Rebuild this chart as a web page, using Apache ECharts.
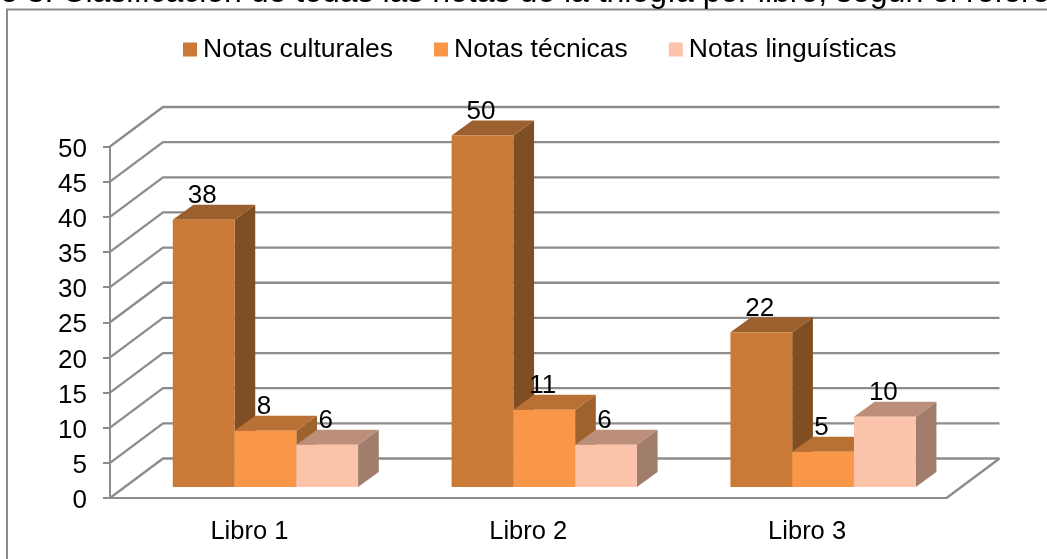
<!DOCTYPE html>
<html>
<head>
<meta charset="utf-8">
<style>
  html, body { margin: 0; padding: 0; background: #fff; }
  #chart { width: 1047px; height: 559px; }
</style>
<script src="https://cdn.jsdelivr.net/npm/echarts@6/dist/echarts.min.js"></script>
</head>
<body>
<div id="chart"></div>
<script>
const captionText = 'e 3. Clasificación de todas las notas de la trilogía por libro, según el referente'
const books = ['Libro 1', 'Libro 2', 'Libro 3']
const yTicks = [0, 5, 10, 15, 20, 25, 30, 35, 40, 45, 50]
const culturales = [38, 50, 22]
const tecnicas = [8, 11, 5]
const linguisticas = [6, 6, 10]

const fontName = '"Liberation Sans", Arial, sans-serif'
const gridColor = '#8c8c8c'

// fake 3D: how far the back wall and the bars are pushed from the front plane
const wallDepth = [53, -39.5]
const barLift = [16, -11]
const barDepth = [20.7, -15]
const barShare = 0.2215

const wallItem = (params, api) => {
  const sys = params.coordSys
  const y = api.coord([0, api.value(1)])[1]
  const left = sys.x
  const right = sys.x + sys.width
  const backY = y + wallDepth[1]
  const children = [
    {
      type: 'polyline',
      shape: { points: [[left, y], [left + wallDepth[0], backY], [right + wallDepth[0], backY]] },
      style: { fill: 'none', stroke: gridColor, lineWidth: 2.3 }
    }
  ]
  // floor edge on the right side
  if (api.value(1) === 0) {
    children.push({
      type: 'line',
      shape: { x1: right, y1: y, x2: right + wallDepth[0], y2: backY },
      style: { stroke: gridColor, lineWidth: 2.3 }
    })
  }
  return { type: 'group', children }
}

const barItem = (slot, colors) => (params, api) => {
  const band = api.size([1, 0])[0]
  const w = band * barShare
  const base = api.coord([api.value(0), 0])
  const top = api.coord([api.value(0), api.value(1)])
  const x0 = base[0] + barLift[0] + (slot - 1.5) * w
  const x1 = x0 + w
  const y0 = base[1] + barLift[1]
  const y1 = top[1] + barLift[1]
  const dx = barDepth[0]
  const dy = barDepth[1]
  return {
    type: 'group',
    children: [
      {
        type: 'polygon',
        shape: { points: [[x1, y0], [x1 + dx, y0 + dy], [x1 + dx, y1 + dy], [x1, y1]] },
        style: { fill: colors.side }
      },
      {
        type: 'polygon',
        shape: { points: [[x0, y1], [x0 + dx, y1 + dy], [x1 + dx, y1 + dy], [x1, y1]] },
        style: { fill: colors.top }
      },
      {
        type: 'rect',
        shape: { x: x0, y: y1, width: w, height: y0 - y1 },
        style: { fill: colors.front }
      },
      {
        type: 'text',
        z2: 100,
        style: {
          x: (x0 + x1) / 2 - 1.5,
          y: y1 + dy + 4,
          text: String(api.value(1)),
          fill: '#000',
          font: '26px ' + fontName,
          align: 'center',
          verticalAlign: 'bottom'
        }
      }
    ]
  }
}

const barSeries = (name, values, slot, colors) => ({
  name,
  type: 'custom',
  coordinateSystem: 'cartesian2d',
  renderItem: barItem(slot, colors),
  itemStyle: { color: colors.front },
  encode: { x: 0, y: 1 },
  z: 5 + slot,
  data: values.map((v, i) => [i, v])
})

const myChart = echarts.init(document.getElementById('chart'), null, { renderer: 'canvas' })

myChart.setOption({
  animation: false,
  backgroundColor: '#fff',
  textStyle: { fontFamily: fontName },
  title: {
    text: captionText,
    left: 0,
    top: -23,
    padding: 0,
    textStyle: { fontFamily: fontName, fontSize: 32, fontWeight: 'normal', color: '#000' }
  },
  graphic: [
    {
      type: 'polyline',
      silent: true,
      shape: { points: [[7, 559], [7, 9.5], [1047, 9.5]] },
      style: { fill: 'none', stroke: '#8c8c8c', lineWidth: 2 }
    }
  ],
  legend: {
    data: ['Notas culturales', 'Notas técnicas', 'Notas linguísticas'],
    left: 178,
    top: 31,
    icon: 'rect',
    itemWidth: 14,
    itemHeight: 14,
    itemGap: 41,
    textStyle: { fontFamily: fontName, fontSize: 26.5, color: '#000', padding: [0, 0, 0, 1] }
  },
  grid: { left: 110, right: 100.5, top: 146.5, bottom: 61 },
  xAxis: {
    type: 'category',
    data: books,
    axisLine: { lineStyle: { color: gridColor, width: 2 } },
    axisTick: { show: false },
    axisLabel: { color: '#000', fontFamily: fontName, fontSize: 25.5, margin: 21 }
  },
  yAxis: {
    type: 'value',
    min: 0,
    max: 50,
    interval: 5,
    axisLine: { show: true, lineStyle: { color: gridColor, width: 2 } },
    axisTick: { show: true, length: 7, lineStyle: { color: gridColor, width: 2 } },
    axisLabel: {
      color: '#000',
      fontFamily: fontName,
      fontSize: 26,
      margin: 23,
      formatter: '{v|{value}}',
      rich: { v: { fontFamily: fontName, fontSize: 26, color: '#000', padding: [6, 0, 0, 0] } }
    },
    splitLine: { show: false }
  },
  series: [
    {
      type: 'custom',
      coordinateSystem: 'cartesian2d',
      renderItem: wallItem,
      encode: { x: 0, y: 1 },
      z: 1,
      silent: true,
      data: yTicks.map((t) => [0, t])
    },
    barSeries('Notas culturales', culturales, 0, { front: '#CA7A36', side: '#7F4E22', top: '#9C602E' }),
    barSeries('Notas técnicas', tecnicas, 1, { front: '#F99648', side: '#9E622C', top: '#B97034' }),
    barSeries('Notas linguísticas', linguisticas, 2, { front: '#FBC3A9', side: '#A17D6C', top: '#BB8F7A' })
  ]
})

window.addEventListener('resize', () => {
  myChart.resize()
})
</script>
</body>
</html>
